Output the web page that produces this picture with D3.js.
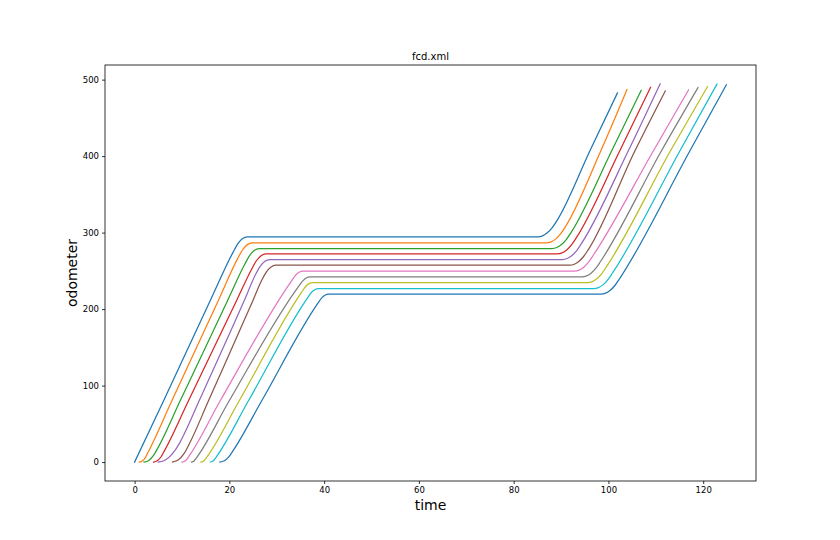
<!DOCTYPE html>
<html>
<head>
<meta charset="utf-8">
<script src="https://cdn.jsdelivr.net/npm/d3@7"></script>
<style>
html,body{margin:0;padding:0;background:#fff;}
svg{display:block;font-family:"DejaVu Sans",sans-serif;}
</style>
</head>
<body>
<svg id="chart" width="840" height="540"></svg>
<script>
// ---- data: [time, odometer] per vehicle ----
const veh0 = [[0,0],[6.1,80],[16,211.6],[20.8,274.5],[21.8,285.5],[22.8,292.2],[23.8,294.5],[85.1,294.5],[86.1,295.8],[87.1,299.7],[88.1,306.2],[89.1,315.3],[96.1,407],[101.9,482.6]];
const veh1 = [[1,0],[1.6,1.3],[2.2,5.3],[2.76,11.8],[7.84,79.8],[17.7,211.6],[21.8,266.6],[22.8,277.6],[23.8,284.3],[24.8,286.6],[86.9,286.6],[87.9,287.9],[88.9,291.8],[89.9,298.3],[90.9,307.4],[98.4,407],[103.9,486.9]];
const veh2 = [[2,0],[3,2.2],[4,8.7],[5,19.5],[9.6,79.8],[19.66,211.6],[23.3,259.2],[24.3,270.2],[25.3,276.9],[26.3,279.2],[88.1,279.2],[89.1,280.5],[90.1,284.4],[91.1,290.9],[92.1,300],[100.7,407],[106.9,485.9]];
const veh3 = [[4,0],[4.77,1.66],[5.55,6.65],[6.32,15],[11.35,79.8],[21.56,211.6],[24.7,252.2],[25.7,263.2],[26.7,269.9],[27.7,272.2],[89.2,272.2],[90.2,273.5],[91.2,277.4],[92.2,283.9],[93.2,293],[102.4,407],[108.9,489.9]];
const veh4 = [[5,0],[6.5,2.75],[8,11],[9.5,24.8],[10.64,38.9],[13.6,79.8],[23.17,211.6],[25.5,244.8],[26.5,255.8],[27.5,262.5],[28.5,264.8],[90.3,264.8],[91.3,266.1],[92.3,270],[93.3,276.5],[94.3,285.6],[104.2,407],[110.9,494.4]];
const veh5 = [[8,0],[9.25,2.9],[10.5,11.7],[11.74,26.2],[15.57,79.8],[25,211.6],[26.8,237.4],[27.8,248.4],[28.8,255.1],[29.8,257.4],[91.8,257.4],[92.8,258.7],[93.8,262.6],[94.8,269.1],[95.8,278.2],[105.6,407],[112,485.2]];
const veh6 = [[10,0],[10.8,2.2],[11.58,8.7],[18.04,79.8],[33.2,237.6],[34,244.6],[34.8,248.5],[35.5,249.6],[92.8,249.6],[93.8,250.9],[94.8,254.8],[95.8,261.3],[96.8,270.4],[109.5,407],[116.9,486.5]];
const veh7 = [[12,0],[12.55,1.5],[13.1,5.9],[19.94,79.8],[34.7,230.4],[35.5,237],[36.3,241],[37,242.1],[94.4,242.1],[95.4,243.4],[96.4,247.3],[97.4,253.8],[98.4,262.9],[111.2,407],[118.9,489.5]];
const veh8 = [[14,0],[14.66,1.8],[15.32,7.1],[22.05,79.8],[35.16,221.3],[36.1,229.6],[36.9,233.6],[37.6,234.7],[95.6,234.7],[96.6,236],[97.6,239.9],[98.6,246.4],[99.6,255.5],[113.1,407],[120.9,490.8]];
const veh9 = [[16,0],[16.61,1.65],[17.22,6.6],[24,79.8],[36.36,213.4],[37.3,221.7],[38.1,225.7],[38.8,226.8],[96.9,226.8],[97.9,228.1],[98.9,232],[99.9,238.5],[100.9,247.6],[115.1,407],[122.9,494.1]];
const veh10 = [[18,0],[18.94,1.7],[19.88,6.8],[20.82,15.2],[26.8,79.8],[38.52,206.1],[39.46,214.4],[40.26,218.4],[40.96,219.5],[98.4,219.5],[99.4,220.8],[100.4,224.7],[101.4,231.2],[102.4,240.3],[117.2,407],[124.9,493.3]];
const seriesList = [veh0,veh1,veh2,veh3,veh4,veh5,veh6,veh7,veh8,veh9,veh10];

const xTicks = [0,20,40,60,80,100,120];
const yTicks = [0,100,200,300,400,500];
const titleText = "fcd.xml";
const xLabel = "time";
const yLabel = "odometer";

// ---- styles ----
const colors = ["#1f77b4","#ff7f0e","#2ca02c","#d62728","#9467bd","#8c564b","#e377c2","#7f7f7f","#bcbd22","#17becf","#1f77b4"];

const margin = {left:105, right:84, top:65, bottom:59};
const W = 840, H = 540;
const svg = d3.select("#chart");

const allPts = seriesList.flat();
const xmin = d3.min(allPts, d=>d[0]), xmax = d3.max(allPts, d=>d[0]);
const ymin = d3.min(allPts, d=>d[1]), ymax = d3.max(allPts, d=>d[1]);
const xpad = (xmax-xmin)*0.05, ypad = (ymax-ymin)*0.05;

const x = d3.scaleLinear().domain([xmin-xpad, xmax+xpad]).range([margin.left, W-margin.right]);
const y = d3.scaleLinear().domain([ymin-ypad, ymax+ypad]).range([H-margin.bottom, margin.top]);

const line = d3.line().x(d=>x(d[0])).y(d=>y(d[1])).curve(d3.curveMonotoneX);

svg.append("g").selectAll("path").data(seriesList).join("path")
  .attr("d", line)
  .attr("fill","none")
  .attr("stroke",(d,i)=>colors[i])
  .attr("stroke-width",1.25)
  .attr("stroke-linejoin","round")
  .attr("stroke-linecap","square");

// axes
const xAxis = d3.axisBottom(x).tickValues(xTicks).tickSize(3).tickPadding(3).tickFormat(d3.format("d"));
const yAxis = d3.axisLeft(y).tickValues(yTicks).tickSize(3).tickPadding(3).tickFormat(d3.format("d"));
const gx = svg.append("g").attr("transform",`translate(0,${H-margin.bottom})`).call(xAxis);
const gy = svg.append("g").attr("transform",`translate(${margin.left},0)`).call(yAxis);
[gx,gy].forEach(g=>{
  g.select(".domain").remove();
  g.selectAll(".tick line").attr("stroke","#000").attr("stroke-width",0.8);
  g.selectAll(".tick text").attr("font-size","8.5px").attr("fill","#000").attr("font-family","DejaVu Sans");
});

// frame
svg.append("rect")
  .attr("x",margin.left).attr("y",margin.top)
  .attr("width",W-margin.left-margin.right).attr("height",H-margin.top-margin.bottom)
  .attr("fill","none").attr("stroke","#000").attr("stroke-width",0.8);

// texts
svg.append("text").attr("x",(margin.left+W-margin.right)/2).attr("y",margin.top-5)
  .attr("text-anchor","middle").attr("font-size","10px").attr("fill","#000").text(titleText);
svg.append("text").attr("x",(margin.left+W-margin.right)/2).attr("y",510)
  .attr("text-anchor","middle").attr("font-size","14px").attr("fill","#000").text(xLabel);
svg.append("text").attr("transform",`translate(77,${(margin.top+H-margin.bottom)/2}) rotate(-90)`)
  .attr("text-anchor","middle").attr("font-size","14px").attr("fill","#000").text(yLabel);
</script>
</body>
</html>
